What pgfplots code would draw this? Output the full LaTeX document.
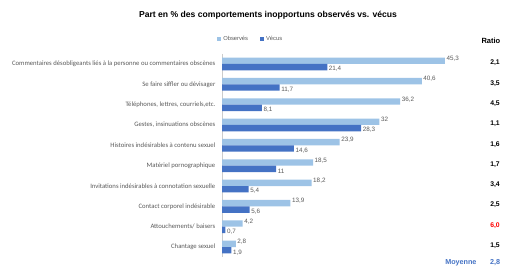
\documentclass[border=0pt]{standalone}
\usepackage{pgfplots}
\pgfplotsset{compat=1.18}
\usepackage{fontspec}
\setmainfont{Carlito}
\newfontfamily\arial{Liberation Sans}
\definecolor{obs}{HTML}{9DC3E6}
\definecolor{vec}{HTML}{4472C4}
\definecolor{lbl}{HTML}{595959}
\definecolor{rred}{HTML}{FF0000}
\begin{document}
\begin{tikzpicture}
\path (0,0) rectangle (510pt,269pt);
\node[font=\arial\bfseries\fontsize{8.6}{10}\selectfont] at (268pt,254pt) {Part en \% des comportements inopportuns observés vs. vécus};
\node[font=\arial\bfseries\fontsize{7.5}{9}\selectfont, anchor=west] at (478pt,228pt) {Ratio};
\begin{axis}[
  at={(222pt,11.8pt)}, anchor=south west,
  scale only axis, width=246pt, height=203.4pt,
  xbar, bar width=6.4pt,
  xmin=0, xmax=50,
  ymin=-0.5, ymax=9.5, y dir=reverse,
  axis x line=none, axis y line=left,
  y axis line style={-, draw=black!20},
  ytick={0,...,9}, ytick style={draw=none},
  yticklabels={Commentaires désobligeants liés à la personne ou commentaires obscènes, Se faire siffler ou dévisager, {Téléphones, lettres, courriels,etc.}, {Gestes, insinuations obscènes}, Histoires indésirables à contenu sexuel, Matériel pornographique, Invitations indésirables à connotation sexuelle, Contact corporel indésirable, Attouchements/ baisers, Chantage sexuel},
  yticklabel style={font=\fontsize{6.7}{8}\selectfont, text=lbl, xshift=-1pt},
  nodes near coords={\pgfmathprintnumber[use comma, assume math mode=true]{\pgfplotspointmeta}},
  nodes near coords style={font=\arial\fontsize{6.3}{7}\selectfont, text=lbl, anchor=west, inner sep=1.5pt},
  clip=false,
  legend style={at={(axis description cs:-0.02,1)}, anchor=south west, yshift=10pt, draw=none, fill=none, font=\arial\fontsize{5.8}{7}\selectfont, text=lbl, legend columns=2, /tikz/every even column/.append style={column sep=10pt}, inner sep=0pt},
  legend image code/.code={\fill[#1] (0pt,-2pt) rectangle (4pt,2pt);},
]
\addplot[fill=obs, draw=none, bar shift=3.2pt, nodes near coords style={yshift=2pt}] coordinates {
(45.3,0) (40.6,1) (36.2,2) (32,3) (23.9,4) (18.5,5) (18.2,6) (13.9,7) (4.2,8) (2.8,9)};
\addplot[fill=vec, draw=none, bar shift=-3.2pt, nodes near coords style={yshift=-2pt}] coordinates {
(21.4,0) (11.7,1) (8.1,2) (28.3,3) (14.6,4) (11,5) (5.4,6) (5.6,7) (0.7,8) (1.9,9)};
\legend{Observés, Vécus}
\end{axis}
\node[font=\arial\bfseries\fontsize{6.8}{8}\selectfont] at (495pt,269pt-63pt) {2,1};
\node[font=\arial\bfseries\fontsize{6.8}{8}\selectfont] at (495pt,269pt-83.3pt) {3,5};
\node[font=\arial\bfseries\fontsize{6.8}{8}\selectfont] at (495pt,269pt-103.6pt) {4,5};
\node[font=\arial\bfseries\fontsize{6.8}{8}\selectfont] at (495pt,269pt-123.9pt) {1,1};
\node[font=\arial\bfseries\fontsize{6.8}{8}\selectfont] at (495pt,269pt-144.2pt) {1,6};
\node[font=\arial\bfseries\fontsize{6.8}{8}\selectfont] at (495pt,269pt-164.5pt) {1,7};
\node[font=\arial\bfseries\fontsize{6.8}{8}\selectfont] at (495pt,269pt-184.8pt) {3,4};
\node[font=\arial\bfseries\fontsize{6.8}{8}\selectfont] at (495pt,269pt-205.1pt) {2,5};
\node[font=\arial\bfseries\fontsize{6.8}{8}\selectfont, text=rred] at (495pt,269pt-225.4pt) {6,0};
\node[font=\arial\bfseries\fontsize{6.8}{8}\selectfont] at (495pt,269pt-245.7pt) {1,5};
\node[font=\arial\bfseries\fontsize{7.2}{8}\selectfont, text=vec, anchor=east] at (480pt,269pt-263pt) {Moyenne};
\node[font=\arial\bfseries\fontsize{7.2}{8}\selectfont, text=vec] at (495pt,269pt-263pt) {2,8};
\end{tikzpicture}
\end{document}
